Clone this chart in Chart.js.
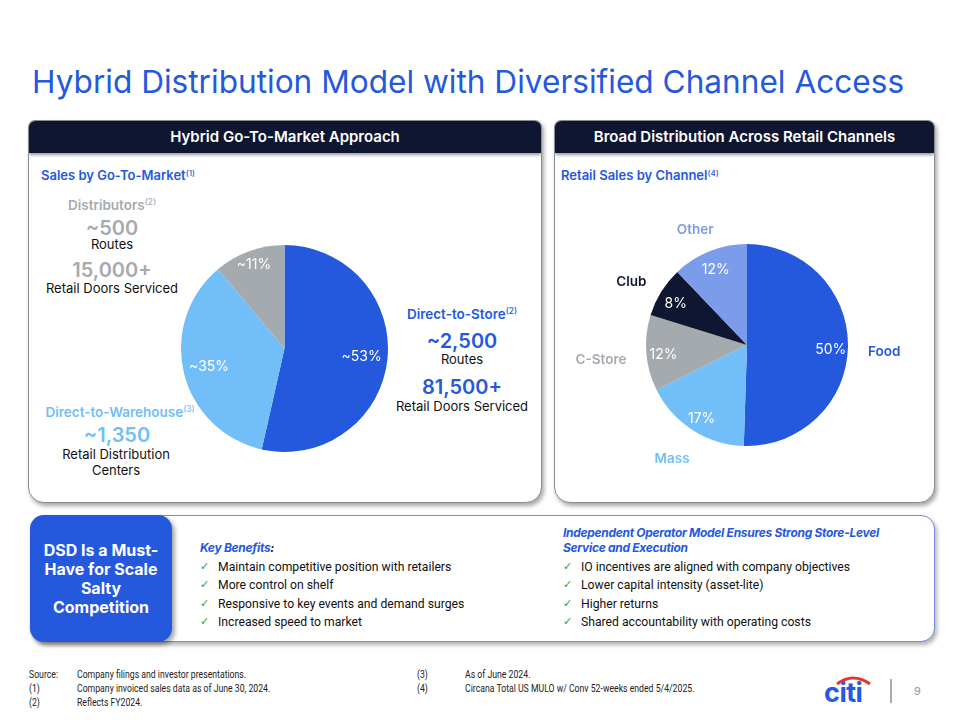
<!DOCTYPE html>
<html>
<head>
<meta charset="utf-8">
<script src="https://cdn.jsdelivr.net/npm/chart.js@4.4.1/dist/chart.umd.min.js"></script>
<style>
  html, body { margin: 0; padding: 0; background: #fff; }
  body { width: 960px; height: 720px; position: relative; overflow: hidden; font-family: Inter, "Noto Sans", sans-serif; color: #111; }
  .t { position: absolute; white-space: nowrap; line-height: 1.2; }
  .c { transform: translate(-50%, -50%); text-align: center; }
  .l { transform: translateY(-50%); }
  sup { font-size: 0.62em; vertical-align: 0; position: relative; top: -0.55em; font-weight: 500; }
  .title { left: 32px; top: 82px; font-size: 31.6px; color: #2459de; font-weight: 400; }
  .panel { position: absolute; top: 120px; height: 381px; background: #fff; border: 1px solid #8a8d93; border-radius: 7px 7px 16px 16px; box-shadow: 2px 3px 4px rgba(0,0,0,0.35); overflow: hidden; }
  .head { height: 32px; background: #0f1631; color: #fff; font-weight: 600; font-size: 15px; line-height: 32px; text-align: center; box-shadow: 0 2px 3px rgba(0,0,0,0.4); }
  .sub { font-size: 13px; font-weight: 600; color: #2459de; }
  .lab { font-size: 13.5px; font-weight: 600; }
  .big { font-size: 20px; font-weight: 600; }
  .sm { font-size: 13px; color: #111; }
  .gray { color: #a5aaaf; }
  .blue { color: #2459de; }
  .lblue { color: #72bef8; }
  canvas { position: absolute; }
  .dsd { position: absolute; left: 30px; top: 515px; width: 903px; height: 125px; border: 1px solid #6f8fd8; border-radius: 14px; box-shadow: 2px 3px 4px rgba(0,0,0,0.3); background: #fff; }
  .tab { position: absolute; left: 30px; top: 515px; width: 142px; height: 127px; background: #2459de; border-radius: 14px; box-shadow: 3px 3px 4px rgba(0,0,0,0.35); color: #fff; font-weight: 700; font-size: 16px; line-height: 19px; text-align: center; display: flex; align-items: center; justify-content: center; }
  .kh { font-size: 12px; letter-spacing: -0.3px; font-style: italic; font-weight: 700; color: #2459de; }
  .it { font-size: 12.2px; color: #111; font-family: Roboto, sans-serif; }
  .ck { color: #2f9e44; font-family: "DejaVu Sans", sans-serif; font-size: 11px; }
  .fn { font-size: 11px; color: #222; font-family: Roboto, sans-serif; transform-origin: 0 50%; transform: translateY(-50%) scaleX(0.79); }
</style>
</head>
<body>
<div class="t l title">Hybrid Distribution Model with Diversified Channel Access</div>

<div class="panel" style="left:28px; width:512px;"><div class="head">Hybrid Go-To-Market Approach</div></div>
<div class="panel" style="left:554px; width:379px;"><div class="head">Broad Distribution Across Retail Channels</div></div>

<div class="t l sub" style="left:41px; top:176px;">Sales by Go-To-Market<sup>(1)</sup></div>
<div class="t l sub" style="left:561px; top:176px;">Retail Sales by Channel<sup>(4)</sup></div>

<div class="t c lab gray" style="left:112px; top:205px;">Distributors<sup>(2)</sup></div>
<div class="t c big gray" style="left:112px; top:228px;">~500</div>
<div class="t c sm" style="left:112px; top:245px;">Routes</div>
<div class="t c big gray" style="left:112px; top:270px;">15,000+</div>
<div class="t c sm" style="left:112px; top:289px;">Retail Doors Serviced</div>

<div class="t c lab blue" style="left:462px; top:314px;">Direct-to-Store<sup>(2)</sup></div>
<div class="t c big blue" style="left:462px; top:341px;">~2,500</div>
<div class="t c sm" style="left:462px; top:360px;">Routes</div>
<div class="t c big blue" style="left:462px; top:387px;">81,500+</div>
<div class="t c sm" style="left:462px; top:407px;">Retail Doors Serviced</div>

<div class="t c lab lblue" style="left:120px; top:412px;">Direct-to-Warehouse<sup>(3)</sup></div>
<div class="t c big lblue" style="left:117px; top:435px;">~1,350</div>
<div class="t c sm" style="left:116px; top:455px;">Retail Distribution</div>
<div class="t c sm" style="left:116px; top:471px;">Centers</div>

<canvas id="gtm" width="207" height="207" style="left:181px; top:245px; width:207px; height:207px;"></canvas>
<canvas id="channel" width="380" height="300" style="left:557px; top:195px; width:380px; height:300px;"></canvas>

<div class="dsd"></div>
<div class="tab"><div>DSD Is a Must-<br>Have for Scale<br>Salty<br>Competition</div></div>

<div class="t l kh" style="left:200px; top:548px;">Key Benefits<span style="color:#111">:</span></div>
<div id="leftList"></div>
<div class="t l kh" style="left:563px; top:533px;">Independent Operator Model Ensures Strong Store-Level</div>
<div class="t l kh" style="left:563px; top:548px;">Service and Execution</div>
<div id="rightList"></div>

<div class="t fn" style="left:29px; top:675px;">Source:</div>
<div class="t fn" style="left:77px; top:675px;">Company filings and investor presentations.</div>
<div class="t fn" style="left:29px; top:689px;">(1)</div>
<div class="t fn" style="left:77px; top:689px;">Company invoiced sales data as of June 30, 2024.</div>
<div class="t fn" style="left:29px; top:703px;">(2)</div>
<div class="t fn" style="left:77px; top:703px;">Reflects FY2024.</div>
<div class="t fn" style="left:417px; top:675px;">(3)</div>
<div class="t fn" style="left:465px; top:675px;">As of June 2024.</div>
<div class="t fn" style="left:417px; top:689px;">(4)</div>
<div class="t fn" style="left:465px; top:689px;">Circana Total US MULO w/ Conv 52-weeks ended 5/4/2025.</div>

<svg style="position:absolute; left:820px; top:670px;" width="60" height="40">
  <path d="M17 14 Q33 2 50 14" stroke="#e8352c" stroke-width="3" fill="none"/>
</svg>
<div class="t l" style="left:824px; top:693px; font-size:27px; font-weight:700; color:#255be3; letter-spacing:-0.5px;">citi</div>
<div style="position:absolute; left:890px; top:679px; width:2px; height:24px; background:#aaa;"></div>
<div class="t l" style="left:914px; top:692px; font-size:11px; color:#999;">9</div>

<script>
// Sales by go-to-market (left pie)
const gtmLabels = ['Direct-to-Store', 'Direct-to-Warehouse', 'Distributors'];
const gtmValues = [53, 35, 11];
const gtmColors = ['#2459de', '#72bef8', '#a5aaaf'];

// Retail sales by channel (right pie)
const channelLabels = ['Food', 'Mass', 'C-Store', 'Club', 'Other'];
const channelValues = [50, 17, 12, 8, 12];
const channelColors = ['#2459de', '#72bef8', '#a5aaaf', '#0f1631', '#7b9ceb'];

const keyBenefits = [
  'Maintain competitive position with retailers',
  'More control on shelf',
  'Responsive to key events and demand surges',
  'Increased speed to market'
];
const operatorPoints = [
  'IO incentives are aligned with company objectives',
  'Lower capital intensity (asset-lite)',
  'Higher returns',
  'Shared accountability with operating costs'
];

function fillList(id, items, x) {
  const rows = [567, 585, 604, 622];
  document.getElementById(id).innerHTML = items.map((txt, i) =>
    `<div class="t l ck" style="left:${x}px; top:${rows[i]}px;">✓</div>` +
    `<div class="t l it" style="left:${x + 18}px; top:${rows[i]}px;">${txt}</div>`
  ).join('');
}
fillList('leftList', keyBenefits, 200);
fillList('rightList', operatorPoints, 563);

// white % labels inside slices, optional coloured category names outside
const sliceLabels = {
  id: 'sliceLabels',
  afterDatasetsDraw(chart, args, opts) {
    const ctx = chart.ctx;
    const meta = chart.getDatasetMeta(0);
    const ds = chart.data.datasets[0];
    ctx.save();
    meta.data.forEach((arc, i) => {
      const span = arc.endAngle - arc.startAngle;
      const mid = (arc.startAngle + arc.endAngle) / 2;
      const cos = Math.cos(mid), sin = Math.sin(mid);
      // narrow slices push their label further out
      const r = arc.outerRadius * (opts.inner + (span < 0.75 ? opts.boost : 0));
      ctx.font = '400 14px Inter, "Noto Sans", sans-serif';
      ctx.fillStyle = '#fff';
      ctx.textAlign = 'center';
      ctx.textBaseline = 'middle';
      ctx.fillText(opts.prefix + ds.data[i] + '%', arc.x + cos * r, arc.y + sin * r + opts.dy);
      if (opts.outer) {
        ctx.font = '600 13.5px Inter, "Noto Sans", sans-serif';
        const name = chart.data.labels[i];
        const w = ctx.measureText(name).width;
        const ro = arc.outerRadius + 20;
        ctx.fillStyle = ds.backgroundColor[i];
        ctx.fillText(name, arc.x + cos * ro + cos * w / 2, arc.y + sin * ro + sin * 8 + 5);
      }
    });
    ctx.restore();
  }
};

const baseOptions = {
  responsive: false,
  animation: false,
  events: [],
  plugins: { legend: { display: false }, tooltip: { enabled: false } }
};

new Chart(document.getElementById('gtm'), {
  type: 'pie',
  data: {
    labels: gtmLabels,
    datasets: [{ data: gtmValues, backgroundColor: gtmColors, borderWidth: 0, hoverOffset: 0 }]
  },
  options: {
    ...baseOptions,
    layout: { padding: 0 },
    plugins: { ...baseOptions.plugins, sliceLabels: { inner: 0.75, boost: 0.11, dy: 0, prefix: '~', outer: false } }
  },
  plugins: [sliceLabels]
});

new Chart(document.getElementById('channel'), {
  type: 'pie',
  data: {
    labels: channelLabels,
    datasets: [{ data: channelValues, backgroundColor: channelColors, borderWidth: 0, hoverOffset: 0 }]
  },
  options: {
    ...baseOptions,
    layout: { padding: { left: 89, right: 89, top: 49, bottom: 49 } },
    plugins: { ...baseOptions.plugins, sliceLabels: { inner: 0.83, boost: 0, dy: 3, prefix: '', outer: true } }
  },
  plugins: [sliceLabels]
});
</script>
</body>
</html>
